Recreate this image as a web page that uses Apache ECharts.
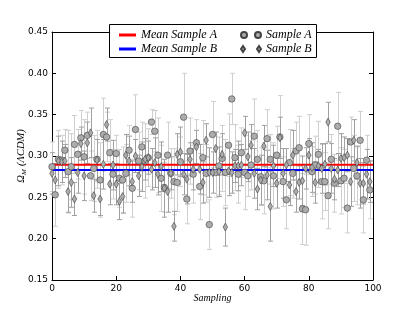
<!DOCTYPE html>
<html><head><meta charset="utf-8">
<script src="https://cdn.jsdelivr.net/npm/echarts@6/dist/echarts.min.js"></script>
<style>html,body{margin:0;padding:0;background:#fff}#c{width:415px;height:312px}</style>
</head><body><div id="c"></div>
<script>
const sampling = [0,1,2,3,4,5,6,7,8,9,10,11,12,13,14,15,16,17,18,19,20,21,22,23,24,25,26,27,28,29,30,31,32,33,34,35,36,37,38,39,40,41,42,43,44,45,46,47,48,49,50,51,52,53,54,55,56,57,58,59,60,61,62,63,64,65,66,67,68,69,70,71,72,73,74,75,76,77,78,79,80,81,82,83,84,85,86,87,88,89,90,91,92,93,94,95,96,97,98,99];
const sampleA = [0.287,0.253,0.296,0.295,0.307,0.281,0.287,0.314,0.302,0.322,0.299,0.325,0.276,0.285,0.296,0.271,0.326,0.323,0.304,0.278,0.303,0.273,0.271,0.279,0.307,0.261,0.332,0.294,0.311,0.294,0.298,0.341,0.330,0.301,0.273,0.262,0.301,0.279,0.269,0.268,0.293,0.347,0.248,0.306,0.278,0.316,0.263,0.298,0.279,0.217,0.326,0.280,0.288,0.297,0.280,0.313,0.369,0.298,0.278,0.304,0.280,0.276,0.289,0.324,0.296,0.275,0.270,0.321,0.296,0.276,0.301,0.323,0.269,0.247,0.292,0.279,0.306,0.310,0.236,0.235,0.315,0.281,0.289,0.302,0.269,0.269,0.252,0.296,0.267,0.336,0.270,0.273,0.237,0.317,0.285,0.276,0.319,0.247,0.295,0.259];
const errA = [0.030,0.038,0.035,0.030,0.025,0.050,0.040,0.035,0.030,0.033,0.045,0.028,0.030,0.040,0.035,0.045,0.044,0.030,0.040,0.030,0.022,0.035,0.040,0.035,0.030,0.035,0.042,0.035,0.030,0.045,0.035,0.015,0.025,0.045,0.040,0.030,0.040,0.030,0.040,0.035,0.030,0.053,0.030,0.040,0.035,0.028,0.040,0.045,0.035,0.030,0.040,0.030,0.035,0.040,0.040,0.038,0.031,0.040,0.035,0.030,0.045,0.025,0.030,0.045,0.035,0.035,0.040,0.035,0.030,0.040,0.035,0.050,0.030,0.035,0.040,0.030,0.035,0.038,0.043,0.043,0.035,0.030,0.035,0.040,0.045,0.035,0.040,0.030,0.035,0.041,0.040,0.035,0.030,0.030,0.040,0.035,0.035,0.040,0.030,0.035];
const sampleB = [0.279,0.271,0.294,0.293,0.294,0.257,0.268,0.248,0.280,0.315,0.276,0.316,0.328,0.252,0.295,0.248,0.290,0.338,0.266,0.289,0.266,0.245,0.251,0.301,0.294,0.269,0.300,0.276,0.287,0.296,0.298,0.284,0.292,0.278,0.287,0.261,0.257,0.279,0.215,0.302,0.305,0.278,0.272,0.296,0.284,0.311,0.284,0.268,0.319,0.280,0.280,0.309,0.281,0.302,0.214,0.282,0.280,0.288,0.288,0.289,0.328,0.299,0.313,0.279,0.260,0.271,0.312,0.277,0.239,0.288,0.267,0.322,0.279,0.289,0.265,0.301,0.257,0.268,0.270,0.285,0.301,0.286,0.268,0.288,0.285,0.290,0.341,0.285,0.272,0.283,0.297,0.298,0.301,0.269,0.319,0.292,0.267,0.267,0.278,0.269];
const errB = [0.025,0.020,0.030,0.025,0.020,0.025,0.030,0.020,0.025,0.020,0.030,0.025,0.030,0.020,0.025,0.020,0.030,0.020,0.025,0.030,0.025,0.022,0.020,0.025,0.030,0.025,0.020,0.025,0.030,0.025,0.020,0.025,0.030,0.025,0.030,0.035,0.025,0.020,0.018,0.025,0.030,0.025,0.030,0.020,0.025,0.020,0.030,0.025,0.020,0.030,0.025,0.020,0.030,0.025,0.023,0.030,0.025,0.020,0.030,0.025,0.020,0.030,0.025,0.030,0.025,0.030,0.025,0.030,0.042,0.025,0.030,0.025,0.030,0.020,0.025,0.030,0.025,0.020,0.030,0.025,0.020,0.030,0.025,0.020,0.030,0.025,0.024,0.030,0.025,0.020,0.030,0.025,0.020,0.030,0.025,0.020,0.030,0.025,0.030,0.025];
const meanA = 0.2895;
const meanB = 0.2830;
const xTicks = [0, 20, 40, 60, 80, 100];
const yTicks = [0.15, 0.20, 0.25, 0.30, 0.35, 0.40, 0.45];

const chart = echarts.init(document.getElementById('c'), null, {renderer: 'canvas'});
const serif = '"Liberation Serif", "DejaVu Serif", serif';
function errData(vals, errs) {
  return sampling.map((x, i) => [x, vals[i] - errs[i], vals[i] + errs[i]]);
}
function errRender(color) {
  return function (params, api) {
    const x = api.value(0), lo = api.value(1), hi = api.value(2);
    const p1 = api.coord([x, lo]), p2 = api.coord([x, hi]);
    const px = Math.round(p1[0]) + 0.5;
    const w = 2.5;
    const st = {stroke: color, lineWidth: 1, fill: null};
    return {type: 'group', children: [
      {type: 'line', shape: {x1: px, y1: p1[1], x2: px, y2: p2[1]}, style: st},
      {type: 'line', shape: {x1: px - w, y1: p1[1], x2: px + w, y2: p1[1]}, style: st},
      {type: 'line', shape: {x1: px - w, y1: p2[1], x2: px + w, y2: p2[1]}, style: st}
    ]};
  };
}
const axisCommon = {
  axisLine: {show: true, onZero: false, lineStyle: {color: '#000', width: 1}},
  axisTick: {show: true, inside: true, length: 4, lineStyle: {color: '#000'}},
  splitLine: {show: false}
};
const mk = {color: '#acacac', borderColor: '#444', borderWidth: 0.6, opacity: 1};
const option = {
  animation: false,
  backgroundColor: '#fff',
  grid: {left: 52, right: 42, top: 32, bottom: 32, containLabel: false},
  xAxis: [
    Object.assign({type: 'value', min: xTicks[0], max: xTicks[xTicks.length - 1], interval: 20,
      axisLabel: {color: '#000', fontSize: 9, fontFamily: '"DejaVu Sans", sans-serif', margin: 4},
      name: 'Sampling', nameLocation: 'middle', nameGap: 13, nameMoveOverlap: false,
      nameTextStyle: {fontFamily: serif, fontStyle: 'italic', fontSize: 10, color: '#000'}}, axisCommon),
    Object.assign({type: 'value', position: 'top', min: xTicks[0], max: xTicks[xTicks.length - 1], interval: 20,
      axisLabel: {show: false}}, axisCommon)
  ],
  yAxis: [
    Object.assign({type: 'value', min: yTicks[0], max: yTicks[yTicks.length - 1], interval: 0.05,
      axisLabel: {color: '#000', fontSize: 9, fontFamily: '"DejaVu Sans", sans-serif', margin: 4,
        formatter: v => v.toFixed(2)},
      name: '{o|Ω}{s|M} {o|(ΛCDM)}', nameLocation: 'middle', nameGap: 24, nameRotate: 90, nameMoveOverlap: false,
      nameTextStyle: {color: '#000', rich: {
        o: {fontFamily: serif, fontStyle: 'italic', fontSize: 10.5, color: '#000'},
        s: {fontFamily: serif, fontStyle: 'italic', fontSize: 7, color: '#000', verticalAlign: 'bottom', padding: [6, 0, 0, 0]}
      }}}, axisCommon),
    Object.assign({type: 'value', position: 'right', min: yTicks[0], max: yTicks[yTicks.length - 1], interval: 0.05,
      axisLabel: {show: false}}, axisCommon)
  ],
  legend: [
    {orient: 'vertical', left: 114, top: 24, itemWidth: 17, itemHeight: 3, itemGap: 2,
      textStyle: {fontFamily: serif, fontStyle: 'italic', fontSize: 12, color: '#000', lineHeight: 12},
      data: [
        {name: 'Mean Sample A', icon: 'rect'},
        {name: 'Mean Sample B', icon: 'rect'}
      ]},
    {orient: 'vertical', left: 235, top: 24, itemWidth: 20, itemHeight: 6, itemGap: 2,
      textStyle: {fontFamily: serif, fontStyle: 'italic', fontSize: 12, color: '#000', lineHeight: 12},
      data: [
        {name: 'Sample A', icon: 'path://M0,3a3,3 0 1,0 6,0a3,3 0 1,0 -6,0zM14,3a3,3 0 1,0 6,0a3,3 0 1,0 -6,0z'},
        {name: 'Sample B', icon: 'path://M2,0L4,3L2,6L0,3zM18,0L20,3L18,6L16,3z'}
      ]}
  ],
  graphic: [
    {type: 'rect', z: 3, shape: {x: 109.5, y: 24.5, width: 207, height: 33},
      style: {fill: '#fff', stroke: '#000', lineWidth: 1}}
  ],
  series: [
    {type: 'custom', name: 'errA', data: errData(sampleA, errA), renderItem: errRender('#cfcfcf'),
      encode: {x: 0, y: [1, 2]}, z: 2, silent: true},
    {type: 'scatter', name: 'Sample A', data: sampling.map((x, i) => [x, sampleA[i]]),
      symbol: 'circle', symbolSize: 6.5, z: 3, itemStyle: mk},
    {type: 'custom', name: 'errB', data: errData(sampleB, errB), renderItem: errRender('#a0a0a0'),
      encode: {x: 0, y: [1, 2]}, z: 2, silent: true},
    {type: 'scatter', name: 'Sample B', data: sampling.map((x, i) => [x, sampleB[i]]),
      symbol: 'diamond', symbolSize: [4.5, 8], z: 3, itemStyle: mk},
    {type: 'line', name: 'Mean Sample A', data: [[xTicks[0], meanA], [xTicks[xTicks.length - 1], meanA]],
      symbol: 'none', z: 2, lineStyle: {color: '#ff0000', width: 2}, itemStyle: {color: '#ff0000'}},
    {type: 'line', name: 'Mean Sample B', data: [[xTicks[0], meanB], [xTicks[xTicks.length - 1], meanB]],
      symbol: 'none', z: 2, lineStyle: {color: '#0000ff', width: 2}, itemStyle: {color: '#0000ff'}}
  ]
};
chart.setOption(option);
</script>
</body></html>
